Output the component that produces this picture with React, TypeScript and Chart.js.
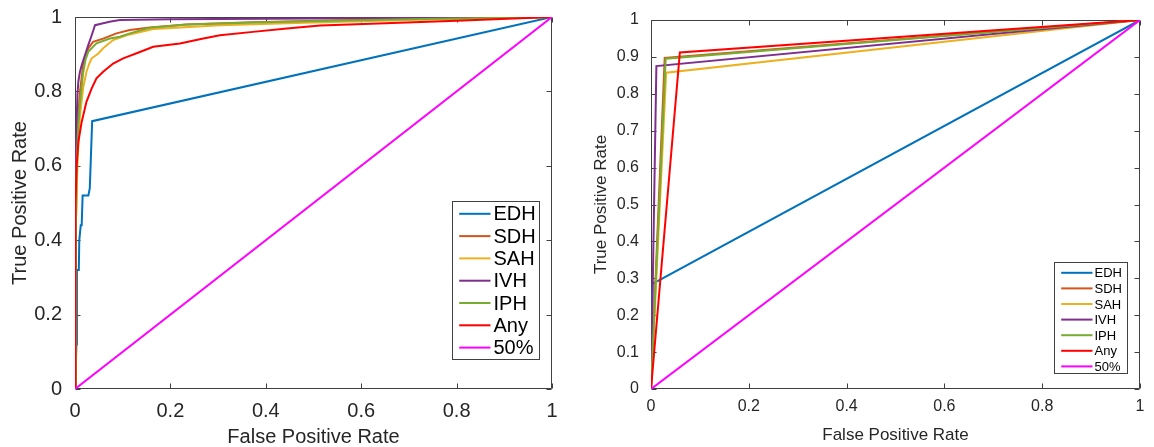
import React, { useEffect, useRef } from "react";
import { Chart, registerables } from "chart.js";

Chart.register(...registerables);

// ---------- DATA ----------
const SERIES_LABELS = ["EDH", "SDH", "SAH", "IVH", "IPH", "Any", "50%"];
const SERIES_COLORS = ["#0072BD", "#D95319", "#EDB120", "#7E2F8E", "#77AC30", "#FF0000", "#FF00FF"];

// Left panel (fpr, tpr)
const L_EDH: [number, number][] = [[0, 0], [0.003, 0.12], [0.004, 0.32], [0.008, 0.32], [0.009, 0.40], [0.012, 0.44], [0.014, 0.44], [0.016, 0.52], [0.028, 0.52], [0.031, 0.54], [0.036, 0.72], [1, 1]];
const L_SDH: [number, number][] = [[0, 0], [0.002, 0.45], [0.004, 0.65], [0.007, 0.74], [0.0105, 0.80], [0.017, 0.87], [0.022, 0.895], [0.028, 0.916], [0.038, 0.933], [0.059, 0.942], [0.087, 0.956], [0.115, 0.965], [0.157, 0.972], [0.234, 0.980], [0.373, 0.986], [0.514, 0.990], [0.7, 0.995], [1, 1]];
const L_SAH: [number, number][] = [[0, 0], [0.002, 0.45], [0.005, 0.6], [0.008, 0.68], [0.0105, 0.736], [0.017, 0.808], [0.024, 0.853], [0.030, 0.875], [0.035, 0.889], [0.049, 0.902], [0.059, 0.916], [0.080, 0.938], [0.108, 0.951], [0.164, 0.968], [0.304, 0.978], [0.5, 0.985], [0.7, 0.992], [1, 1]];
const L_IVH: [number, number][] = [[0, 0], [0.001, 0.45], [0.002, 0.6], [0.0035, 0.72], [0.005, 0.79], [0.007, 0.826], [0.010, 0.85], [0.014, 0.87], [0.021, 0.898], [0.028, 0.925], [0.035, 0.951], [0.042, 0.978], [0.059, 0.983], [0.075, 0.988], [0.094, 0.992], [0.2, 0.994], [0.5, 0.996], [1, 1]];
const L_IPH: [number, number][] = [[0, 0], [0.002, 0.45], [0.004, 0.62], [0.007, 0.71], [0.0105, 0.77], [0.017, 0.85], [0.022, 0.885], [0.028, 0.907], [0.045, 0.929], [0.073, 0.942], [0.094, 0.947], [0.115, 0.956], [0.157, 0.971], [0.234, 0.980], [0.373, 0.985], [0.514, 0.989], [0.7, 0.994], [1, 1]];
const L_ANY: [number, number][] = [[0, 0], [0, 0.12], [0.001, 0.3], [0.002, 0.5], [0.0035, 0.60], [0.007, 0.664], [0.014, 0.718], [0.024, 0.772], [0.035, 0.808], [0.045, 0.835], [0.059, 0.853], [0.080, 0.875], [0.101, 0.889], [0.136, 0.906], [0.164, 0.920], [0.220, 0.929], [0.269, 0.942], [0.304, 0.951], [0.373, 0.960], [0.444, 0.969], [0.514, 0.977], [0.65, 0.983], [0.80, 0.99], [1, 1]];
const L_CHANCE: [number, number][] = [[0, 0], [1, 1]];

// Right panel (fpr, tpr)
const R_EDH: [number, number][] = [[0, 0], [0.003, 0.285], [1, 1]];
const R_SDH: [number, number][] = [[0, 0], [0.028, 0.897], [1, 1]];
const R_SAH: [number, number][] = [[0, 0], [0.031, 0.857], [1, 1]];
const R_IVH: [number, number][] = [[0, 0], [0.011, 0.875], [1, 1]];
const R_IPH: [number, number][] = [[0, 0], [0.030, 0.895], [1, 1]];
const R_ANY: [number, number][] = [[0, 0], [0.059, 0.912], [1, 1]];
const R_CHANCE: [number, number][] = [[0, 0], [1, 1]];

const LEFT_SERIES = [L_EDH, L_SDH, L_SAH, L_IVH, L_IPH, L_ANY, L_CHANCE];
const RIGHT_SERIES = [R_EDH, R_SDH, R_SAH, R_IVH, R_IPH, R_ANY, R_CHANCE];

const LEFT_TICK_STEP = 0.2;
const RIGHT_Y_TICK_STEP = 0.1;
const RIGHT_X_TICK_STEP = 0.2;

const X_TITLE = "False Positive Rate";
const Y_TITLE = "True Positive Rate";

// ---------- STYLE ----------
const FONT = "'Liberation Sans', Arial, Helvetica, sans-serif";
const AXIS_COLOR = "#404040";
const TEXT_COLOR = "#262626";

const fmt = (v: number) => String(Math.round(v * 10) / 10);

const axesBoxPlugin = {
  id: "axesBox",
  beforeDatasetsDraw(chart: any) {
    const { ctx, chartArea } = chart;
    const { left, right, top, bottom } = chartArea;
    const xs = chart.scales.x;
    const ys = chart.scales.y;
    const tl = 5;
    ctx.save();
    ctx.strokeStyle = AXIS_COLOR;
    ctx.lineWidth = 1;
    const L = Math.round(left) + 0.5, R = Math.round(right) - 0.5;
    const T = Math.round(top) + 0.5, B = Math.round(bottom) - 0.5;
    ctx.beginPath();
    ctx.rect(L, T, R - L, B - T);
    for (const t of xs.ticks) {
      const px = Math.round(xs.getPixelForValue(t.value)) + 0.5;
      ctx.moveTo(px, B); ctx.lineTo(px, B - tl);
      ctx.moveTo(px, T); ctx.lineTo(px, T + tl);
    }
    for (const t of ys.ticks) {
      const py = Math.round(ys.getPixelForValue(t.value)) + 0.5;
      ctx.moveTo(L, py); ctx.lineTo(L + tl, py);
      ctx.moveTo(R, py); ctx.lineTo(R - tl, py);
    }
    ctx.stroke();
    ctx.restore();
  },
};

const legendPlugin = {
  id: "matLegend",
  afterDatasetsDraw(chart: any, _args: any, opts: any) {
    const { ctx, chartArea } = chart;
    const { gapRight, gapBottom, w, h, firstOffset, rowH, fontSize, lineOffset, lineLen, textGap } = opts;
    const x0 = Math.round(chartArea.right - gapRight - w) + 0.5;
    const y0 = Math.round(chartArea.bottom - gapBottom - h) + 0.5;
    ctx.save();
    ctx.fillStyle = "#ffffff";
    ctx.fillRect(x0, y0, w, h);
    ctx.strokeStyle = AXIS_COLOR;
    ctx.lineWidth = 1;
    ctx.strokeRect(x0, y0, w, h);
    ctx.font = `${fontSize}px ${FONT}`;
    ctx.textBaseline = "middle";
    ctx.textAlign = "left";
    chart.data.datasets.forEach((ds: any, i: number) => {
      const cy = y0 + firstOffset + i * rowH;
      ctx.strokeStyle = ds.borderColor;
      ctx.lineWidth = 2;
      ctx.beginPath();
      ctx.moveTo(x0 + lineOffset, cy);
      ctx.lineTo(x0 + lineOffset + lineLen, cy);
      ctx.stroke();
      ctx.fillStyle = "#000000";
      ctx.fillText(ds.label, x0 + lineOffset + lineLen + textGap, cy + 1);
    });
    ctx.restore();
  },
};

function makeConfig(series: [number, number][][], p: any) {
  const datasets = series.map((pts, i) => ({
    label: SERIES_LABELS[i],
    data: pts.map(([x, y]) => ({ x, y })),
    borderColor: SERIES_COLORS[i],
    backgroundColor: SERIES_COLORS[i],
    borderWidth: 2,
    pointRadius: 0,
    showLine: true,
    fill: false,
    tension: 0,
    order: series.length - i,
  }));
  return {
    type: "scatter" as const,
    data: { datasets },
    plugins: [axesBoxPlugin, legendPlugin],
    options: {
      responsive: false,
      animation: false,
      devicePixelRatio: 1,
      layout: { padding: { top: p.top, right: p.right, left: 0, bottom: 0 } },
      plugins: {
        legend: { display: false },
        tooltip: { enabled: false },
        matLegend: p.legend,
      },
      scales: {
        x: {
          type: "linear",
          min: 0,
          max: 1,
          grid: { display: false },
          border: { display: false },
          ticks: {
            stepSize: p.xStep,
            callback: (v: number) => fmt(v),
            font: { family: FONT, size: p.tickSize },
            color: TEXT_COLOR,
            padding: p.xTickPad,
            maxRotation: 0,
          },
          title: {
            display: true,
            text: X_TITLE,
            font: { family: FONT, size: p.titleSize, lineHeight: 1 },
            color: TEXT_COLOR,
            padding: { top: 0, bottom: p.xTitlePad },
          },
          afterFit: (s: any) => { s.height = p.xAxisH; },
        },
        y: {
          type: "linear",
          min: 0,
          max: 1,
          grid: { display: false },
          border: { display: false },
          ticks: {
            stepSize: p.yStep,
            callback: (v: number) => fmt(v),
            font: { family: FONT, size: p.tickSize },
            color: TEXT_COLOR,
            padding: p.yTickPad,
          },
          title: {
            display: true,
            text: Y_TITLE,
            font: { family: FONT, size: p.titleSize, lineHeight: 1 },
            color: TEXT_COLOR,
            padding: { top: p.yTitlePad, bottom: 0 },
          },
          afterFit: (s: any) => { s.width = p.yAxisW; },
        },
      },
    },
  };
}

const LEFT_LAYOUT = {
  top: 17, right: 25, xAxisH: 58, yAxisW: 75,
  tickSize: 20, titleSize: 20, xTickPad: 2, yTickPad: 5, xTitlePad: 0, yTitlePad: 10,
  xStep: LEFT_TICK_STEP, yStep: LEFT_TICK_STEP,
  legend: { gapRight: 13, gapBottom: 30, w: 87, h: 158, firstOffset: 12.3, rowH: 22.3, fontSize: 20, lineOffset: 6.7, lineLen: 31.3, textGap: 3 },
};

const RIGHT_LAYOUT = {
  top: 20, right: 14, xAxisH: 58, yAxisW: 74,
  tickSize: 16, titleSize: 17, xTickPad: 0, yTickPad: 4, xTitlePad: 3.5, yTitlePad: 16,
  xStep: RIGHT_X_TICK_STEP, yStep: RIGHT_Y_TICK_STEP,
  legend: { gapRight: 13, gapBottom: 16, w: 73, h: 111, firstOffset: 10.3, rowH: 15.6, fontSize: 13, lineOffset: 6.7, lineLen: 31.3, textGap: 2 },
};

function RocChart({ series, layout, left }: { series: [number, number][][]; layout: any; left: number }) {
  const ref = useRef<HTMLCanvasElement | null>(null);
  useEffect(() => {
    if (!ref.current) return;
    const chart = new Chart(ref.current, makeConfig(series, layout) as any);
    return () => chart.destroy();
  }, []);
  return (
    <canvas
      ref={ref}
      width={577}
      height={447}
      style={{ position: "absolute", left, top: 0, width: 577, height: 447, display: "block" }}
    />
  );
}

export default function App() {
  return (
    <div style={{ position: "absolute", left: 0, top: 0, width: 1154, height: 447, background: "#ffffff", overflow: "hidden" }}>
      <RocChart series={LEFT_SERIES} layout={LEFT_LAYOUT} left={0} />
      <RocChart series={RIGHT_SERIES} layout={RIGHT_LAYOUT} left={577} />
    </div>
  );
}
